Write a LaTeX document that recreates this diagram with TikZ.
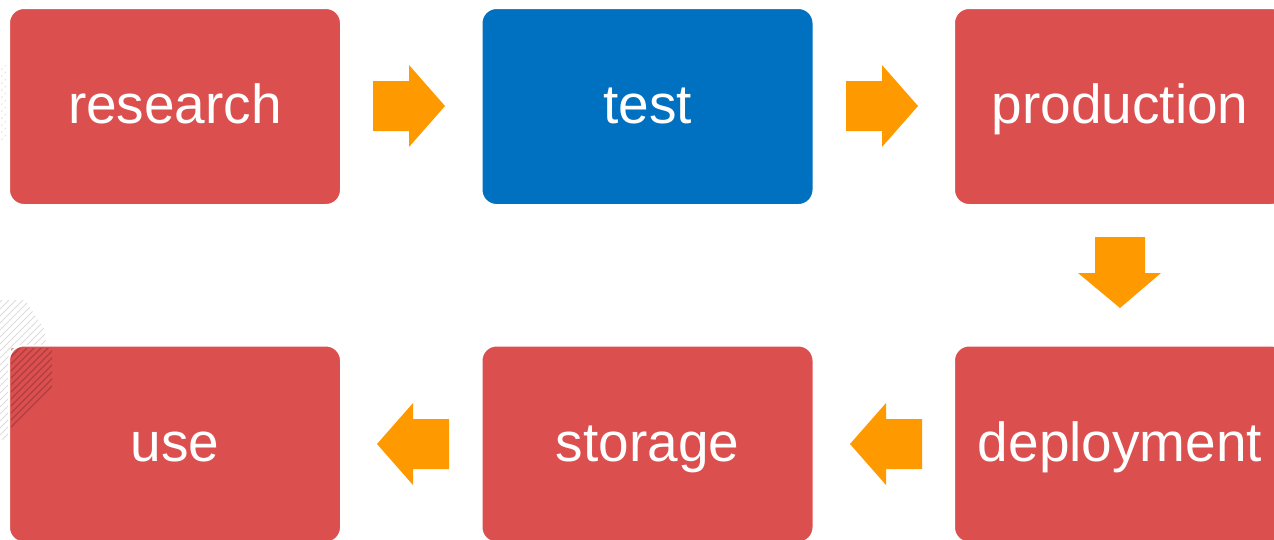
\documentclass[tikz,border=0pt]{standalone}
\usepackage{fontspec}
\setmainfont{Liberation Sans}
\definecolor{boxred}{HTML}{DB4F4F}
\definecolor{boxblue}{HTML}{0070C0}
\definecolor{arroworange}{HTML}{FF9900}
\tikzset{
  stage/.style={rectangle, rounded corners=15pt, minimum width=332pt, minimum height=197pt,
    fill=boxred, draw=white, line width=2pt, text=white, inner sep=0pt,
    font=\fontsize{55}{60}\selectfont, text height=40pt, text depth=6pt},
  bluestage/.style={stage, fill=boxblue},
  blockarrow/.style={fill=arroworange, draw=none},
  hatch/.style={draw=black!45, opacity=0.3, line width=1pt}
}
\begin{document}
\begin{tikzpicture}[x=1pt,y=-1pt]
\useasboundingbox (0,0) rectangle (1274,539);
\clip (0,0) rectangle (1274,539);
% faint background hatching
\begin{scope}
  \clip (0,300) -- (25,300) -- (45,330) -- (50,430) -- (0,440) -- cycle;
  \foreach \k in {0,7,...,280} {
    \draw[hatch] (-60,250+\k) -- (80,110+\k);
  }
\end{scope}
\begin{scope}
  \clip (0,65) rectangle (6,140);
  \foreach \k in {0,7,...,120} {
    \draw[draw=black!40, opacity=0.25, line width=0.8pt, dash pattern=on 2pt off 3pt] (-20,70+\k) -- (20,30+\k);
  }
\end{scope}
% stages
\node[stage] (research) at (175,106.5) {research};
\node[bluestage] (test) at (647.5,106.5) {test};
\node[stage] (production) at (1120,106.5) {production};
\node[stage] (use) at (175,444) {use};
\node[stage] (storage) at (647.5,444) {storage};
\node[stage] (deployment) at (1120,444) {deployment};
% hatch over the corner of "use"
\begin{scope}
  \clip (11,348) -- (52,348) -- (52,390) -- (11,432) -- cycle;
  \foreach \k in {0,7,...,280} {
    \draw[draw=boxred!60!black, opacity=0.5, line width=1.3pt] (-60,330+\k) -- (80,190+\k);
  }
\end{scope}
% block arrows
\fill[blockarrow] (373,81) -- (409,81) -- (409,65) -- (445,106) -- (409,147) -- (409,131) -- (373,131) -- cycle;
\fill[blockarrow] (846,81) -- (882,81) -- (882,65) -- (918,106) -- (882,147) -- (882,131) -- (846,131) -- cycle;
\fill[blockarrow] (1095,237) -- (1145,237) -- (1145,273) -- (1161,273) -- (1120,308) -- (1078,273) -- (1095,273) -- cycle;
\fill[blockarrow] (922,419) -- (886,419) -- (886,403) -- (850,444) -- (886,485) -- (886,469) -- (922,469) -- cycle;
\fill[blockarrow] (449,419) -- (413,419) -- (413,403) -- (377,444) -- (413,485) -- (413,469) -- (449,469) -- cycle;
\end{tikzpicture}
\end{document}
